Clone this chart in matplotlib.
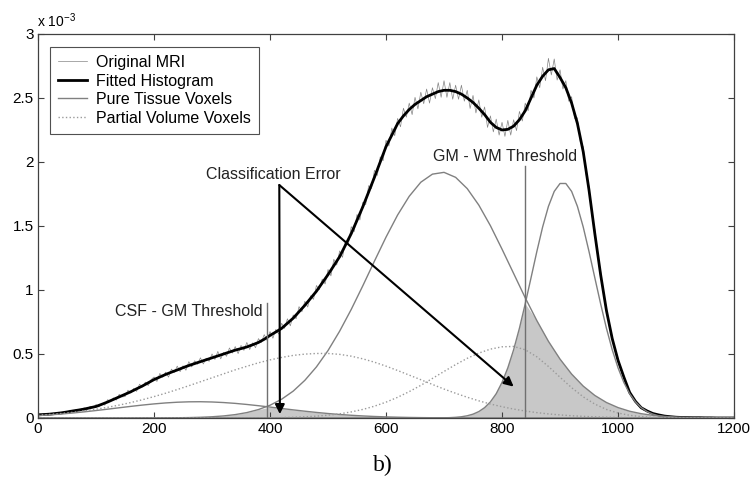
import numpy as np
import matplotlib
matplotlib.use('Agg')
import matplotlib.pyplot as plt
from matplotlib.ticker import FormatStrFormatter

plt.rcParams['font.family'] = ['Liberation Sans', 'DejaVu Sans']
plt.rcParams['mathtext.default'] = 'regular'

# intensity axis; counts are in units of 1e-3
x_coarse = list(range(0, 1201, 20))
x_fine = list(range(0, 1201, 10))
x_raw = list(range(0, 1201, 5))

csf_pure = [0.0185, 0.0242, 0.0310, 0.0391, 0.0481, 0.0582, 0.0688, 0.0798, 0.0907, 0.1009,
            0.110, 0.1176, 0.1231, 0.1263, 0.127, 0.125, 0.1206, 0.1141, 0.1056, 0.0959,
            0.0853, 0.0743, 0.0634, 0.0531, 0.0435, 0.0349, 0.0275, 0.0212, 0.0160, 0.0118,
            0.0086, 0.0061, 0.0042, 0.0029, 0.0019, 0.0013, 0.0008, 0.0005, 0, 0,
            0, 0, 0, 0, 0, 0, 0, 0, 0, 0,
            0, 0, 0, 0, 0, 0, 0, 0, 0, 0, 0]

gm_pure = [0, 0, 0, 0, 0, 0, 0, 0, 0, 0.0002,
           0.0005, 0.0009, 0.0017, 0.0031, 0.0055, 0.0095, 0.0161, 0.0264, 0.0422, 0.0657,
           0.0995, 0.1466, 0.210, 0.294, 0.399, 0.527, 0.678, 0.848, 1.033, 1.225,
           1.413, 1.586, 1.732, 1.842, 1.905, 1.919, 1.880, 1.792, 1.663, 1.502,
           1.319, 1.129, 0.939, 0.761, 0.599, 0.460, 0.343, 0.249, 0.176, 0.121,
           0.0812, 0.0528, 0.0335, 0.0207, 0.0124, 0.0073, 0.0041, 0.0022, 0.0012, 0.0006, 0.0003]

# white matter peak is narrow, so it is read on the 10-step grid
wm_pure = [0] * 68 + [
    0.0003, 0.0007, 0.0014, 0.0027, 0.0052, 0.0096, 0.0173, 0.030, 0.050, 0.081,
    0.126, 0.190, 0.278, 0.392, 0.533, 0.701, 0.892, 1.095, 1.300, 1.492,
    1.653, 1.770, 1.832, 1.832, 1.770, 1.653, 1.492, 1.300, 1.095, 0.892,
    0.701, 0.533, 0.392, 0.278, 0.190, 0.126, 0.081, 0.050, 0.030, 0.0173,
    0.0096, 0.0052, 0.0027, 0.0014, 0.0007, 0.0003, 0.0002] + [0] * 6

pv_csf_gm = [0.0215, 0.0276, 0.0352, 0.0443, 0.0553, 0.0683, 0.0834, 0.1008, 0.1205, 0.1426,
             0.167, 0.1935, 0.222, 0.252, 0.283, 0.314, 0.345, 0.376, 0.404, 0.431,
             0.454, 0.473, 0.489, 0.499, 0.504, 0.504, 0.497, 0.483, 0.462, 0.436,
             0.405, 0.371, 0.335, 0.299, 0.262, 0.226, 0.193, 0.162, 0.134, 0.109,
             0.088, 0.0697, 0.0544, 0.0419, 0.0318, 0.0238, 0.0175, 0.0127, 0.0091, 0.0064,
             0.0045, 0.0031, 0.0021, 0.0014, 0.0009, 0.0006, 0.0004, 0.0002, 0.0001, 0, 0]

pv_gm_wm = [0, 0, 0, 0, 0, 0, 0, 0, 0, 0,
            0, 0, 0, 0, 0, 0, 0, 0, 0.0007, 0.0012,
            0.002, 0.0034, 0.0057, 0.0091, 0.0143, 0.0219, 0.0326, 0.0473, 0.0669, 0.0921,
            0.1237, 0.1616, 0.206, 0.255, 0.309, 0.3635, 0.417, 0.466, 0.507, 0.538,
            0.556, 0.559, 0.533, 0.478, 0.4026, 0.3185, 0.2367, 0.1652, 0.1084, 0.0667,
            0.0386, 0.021, 0.0107, 0.0052, 0.0023, 0.001, 0.0004, 0, 0, 0, 0]

fitted = [0.025, 0.027, 0.030, 0.035, 0.040, 0.047, 0.055, 0.062, 0.070, 0.080,
          0.090, 0.107, 0.125, 0.145, 0.165, 0.185, 0.205, 0.228, 0.250, 0.275,
          0.300, 0.320, 0.340, 0.358, 0.375, 0.393, 0.410, 0.425, 0.440, 0.455,
          0.470, 0.485, 0.500, 0.515, 0.530, 0.542, 0.555, 0.572, 0.590, 0.615,
          0.645, 0.672, 0.700, 0.740, 0.780, 0.830, 0.880, 0.935, 0.990, 1.055,
          1.12, 1.19, 1.26, 1.35, 1.44, 1.545, 1.65, 1.765, 1.88, 2.00,
          2.12, 2.21, 2.30, 2.36, 2.41, 2.45, 2.48, 2.51, 2.53, 2.55,
          2.56, 2.56, 2.55, 2.53, 2.50, 2.465, 2.42, 2.37, 2.31, 2.27,
          2.25, 2.255, 2.28, 2.33, 2.40, 2.50, 2.60, 2.67, 2.72, 2.73,
          2.66, 2.58, 2.46, 2.30, 2.08, 1.78, 1.44, 1.12, 0.84, 0.62,
          0.45, 0.32, 0.20, 0.13, 0.08, 0.055, 0.035, 0.024, 0.015, 0.010,
          0.006, 0.004, 0.003, 0.002, 0.002, 0.001, 0.001, 0, 0, 0,
          0]

original = [0.031, 0.022, 0.035, 0.0265, 0.035, 0.0265, 0.038, 0.0445, 0.035, 0.0475,
            0.040, 0.061, 0.051, 0.0645, 0.052, 0.071, 0.079, 0.067, 0.091, 0.079,
            0.105, 0.086, 0.115, 0.100, 0.143, 0.129, 0.157, 0.140, 0.185, 0.165,
            0.167, 0.217, 0.195, 0.231, 0.208, 0.264, 0.242, 0.280, 0.253, 0.300,
            0.320, 0.285, 0.348, 0.318, 0.358, 0.319, 0.382, 0.356, 0.405, 0.362,
            0.408, 0.373, 0.440, 0.399, 0.447, 0.420, 0.470, 0.422, 0.467, 0.442,
            0.500, 0.457, 0.520, 0.462, 0.512, 0.482, 0.547, 0.507, 0.558, 0.503,
            0.567, 0.528, 0.590, 0.535, 0.587, 0.549, 0.620, 0.590, 0.651, 0.605,
            0.675, 0.623, 0.692, 0.656, 0.740, 0.700, 0.775, 0.720, 0.805, 0.775,
            0.870, 0.830, 0.912, 0.867, 0.955, 0.927, 1.035, 1.002, 1.085, 1.047,
            1.160, 1.110, 1.240, 1.195, 1.305, 1.255, 1.380, 1.355, 1.495, 1.455,
            1.590, 1.547, 1.685, 1.667, 1.815, 1.792, 1.935, 1.895, 2.040, 2.010,
            2.170, 2.125, 2.265, 2.205, 2.340, 2.275, 2.420, 2.350, 2.460, 2.370,
            2.505, 2.415, 2.545, 2.455, 2.570, 2.460, 2.580, 2.495, 2.620, 2.505,
            2.635, 2.505, 2.620, 2.490, 2.600, 2.490, 2.600, 2.475, 2.560, 2.418,
            2.520, 2.383, 2.485, 2.350, 2.430, 2.270, 2.360, 2.235, 2.335, 2.210,
            2.310, 2.200, 2.325, 2.210, 2.330, 2.245, 2.395, 2.320, 2.460, 2.400,
            2.560, 2.500, 2.665, 2.580, 2.740, 2.635, 2.810, 2.680, 2.805, 2.640,
            2.720, 2.570, 2.635, 2.475, 2.510, 2.340, 2.345, 2.155, 2.120, 1.900,
            1.810, 1.580, 1.475, 1.255, 1.150, 0.960, 0.865, 0.710, 0.640, 0.520,
            0.465, 0.373, 0.332, 0.250, 0.210, 0.157, 0.138, 0.099, 0.086, 0.062,
            0.060, 0.041, 0.039, 0.026, 0.027, 0.016, 0.017, 0.010, 0.012, 0.006,
            0.007, 0.004, 0.005, 0.003, 0.004, 0.002, 0.003, 0.002, 0.002, 0.001,
            0.002, 0.001, 0.001, 0.001, 0.001, 0, 0.001, 0, 0, 0,
            0]

csf_gm_threshold = 395
gm_wm_threshold = 840

x_c = np.array(x_coarse)
csf = np.array(csf_pure)
gm = np.array(gm_pure)
wm = np.array(wm_pure)

fig = plt.figure(figsize=(7.5, 4.8), dpi=100)
ax = fig.add_axes([0.0507, 0.1292, 0.928, 0.80])

# overlap areas = classification error
ax.fill_between(x_c, 0, np.minimum(csf, gm), color='#c8c8c8', lw=0)
ax.fill_between(x_c, 0, np.minimum(gm, wm[::2]), color='#c8c8c8', lw=0)

ax.plot(x_raw, original, color='#858585', lw=0.5, label='Original MRI')
ax.plot(x_fine, fitted, color='black', lw=2.0, label='Fitted Histogram')
ax.plot(x_c, csf, color='#808080', lw=1.0, label='Pure Tissue Voxels')
ax.plot(x_c, gm, color='#808080', lw=1.0)
ax.plot(x_fine, wm, color='#808080', lw=1.0)
ax.plot(x_c, pv_csf_gm, color='#9a9a9a', lw=1.0, ls=':', label='Partial Volume Voxels')
ax.plot(x_c, pv_gm_wm, color='#9a9a9a', lw=1.0, ls=':')

ax.plot([csf_gm_threshold, csf_gm_threshold], [0, 0.90], color='#707070', lw=1.0)
ax.plot([gm_wm_threshold, gm_wm_threshold], [0, 1.97], color='#707070', lw=1.0)

fs = 11.5
ax.text(388, 0.83, 'CSF - GM Threshold', ha='right', va='center', fontsize=fs, color='#222222')
ax.text(805, 2.04, 'GM - WM Threshold', ha='center', va='center', fontsize=fs, color='#222222')
ax.text(406, 1.906, 'Classification Error', ha='center', va='center', fontsize=fs, color='#222222')

arrow = dict(arrowstyle='-|>', color='black', lw=1.5, shrinkA=0, shrinkB=0, mutation_scale=14)
ax.annotate('', xy=(417, 0.03), xytext=(416, 1.82), arrowprops=arrow)
ax.annotate('', xy=(820, 0.245), xytext=(416, 1.82), arrowprops=arrow)

ax.set_xlim(0, 1200)
ax.set_ylim(0, 3)
ax.set_xticks(range(0, 1201, 200))
ax.set_yticks(np.arange(0, 3.01, 0.5))
ax.yaxis.set_major_formatter(FormatStrFormatter('%g'))
ax.tick_params(direction='in', top=True, right=True, length=4, width=0.8,
               color='#404040', labelsize=11, pad=3)
for s in ax.spines.values():
    s.set_color('#404040')
    s.set_linewidth(0.9)

leg = ax.legend(loc='upper left', bbox_to_anchor=(0.017, 0.966), fancybox=False,
                edgecolor='#505050', framealpha=1, borderaxespad=0, handlelength=1.8,
                handletextpad=0.6, labelspacing=0.22, borderpad=0.5, fontsize=fs)
leg.get_frame().set_linewidth(0.8)

fig.text(0.049, 0.943, r'x 10$^{-3}$', fontsize=10, ha='left', va='baseline')
fig.text(0.510, 0.031, 'b)', family='Liberation Serif', fontsize=17, ha='center', va='center')

fig.savefig('out.png', dpi=100)
